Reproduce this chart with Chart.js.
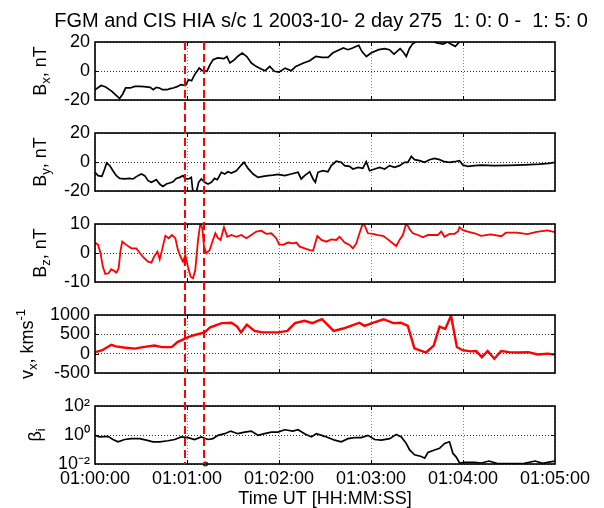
<!DOCTYPE html>
<html lang="en">
<head>
<meta charset="UTF-8">
<title>FGM and CIS HIA s/c 1</title>
<style>
    html, body { margin: 0; padding: 0; background: #fff; }
    #wrap { position: relative; width: 604px; height: 508px; overflow: hidden; background: #fff; }
    #wrap canvas { position: absolute; left: 0; }
</style>
</head>
<body>
<div id="wrap">
    <canvas id="p1" width="604" height="116" style="top:0px"></canvas>
    <canvas id="p2" width="604" height="91" style="top:116px"></canvas>
    <canvas id="p3" width="604" height="91" style="top:207px"></canvas>
    <canvas id="p4" width="604" height="91" style="top:298px"></canvas>
    <canvas id="p5" width="604" height="119" style="top:389px"></canvas>
</div>
<script src="https://cdn.jsdelivr.net/npm/chart.js"></script>
<script>
const TITLE = 'FGM and CIS HIA s/c 1 2003-10- 2 day 275  1: 0: 0 -  1: 5: 0';
const X_TITLE = 'Time UT [HH:MM:SS]';
// time axis in seconds after 01:00:00
const X_TICKS = [0, 60, 120, 180, 240, 300];
const X_TICK_LABELS = ['01:00:00', '01:01:00', '01:02:00', '01:03:00', '01:04:00', '01:05:00'];
const MARK_T = [58.8, 71.3];   // red dashed event lines
const DOT_T = [72];            // little yellow marker on the beta panel
const DOT_V = [0.01];

const BX_T = [0,4,7,11,14,16,18,20,23,26,29,32,36,38,40,42,44,47,49,51,54,56,59,61,63,65,68,70,73,75,
    77,80,84,86,88,91,93,96,99,102,105,108,111,114,117,120,124,128,131,136,140,144,148,152,155,158,162,165,168,172,
    174,177,180,185,189,192,195,199,201,203,205,207,210,216,223,227,230,232,235,237,239];
const BX = [-13,-10,-11,-14,-17,-19,-16,-11.7,-11.7,-10.6,-10.6,-10.8,-11.3,-12.9,-11.3,-11.7,-12.9,-12.9,-12.2,-11.7,
    -10.6,-9.4,-10.1,-6,-6.7,-2.5,2,0.2,-0.2,4.4,7.8,9,8.5,10,5.5,7.8,10,12.4,10,5.5,
    3.2,1.6,0.2,3.2,-0.2,-0.8,2,0.2,3.2,5.5,7.1,10,9.4,9.4,12.4,14,15.9,14.7,15.9,17.7,
    13.6,10,12.4,14.7,15.4,14.7,11.7,15.4,13.1,10,15.4,18.6,20.5,22,19.3,18.6,20,18.6,17,19.3,22];
const BX_TICKS = [-20, 0, 20];

const BY_T = [0,2,4.5,6.3,7.6,9.6,11.7,13.9,16.1,19.3,22.6,24.8,28,30.2,32.4,34.6,36.8,40,42.2,44.3,
    46.5,48.7,50.9,53,55.2,57.4,58.9,61,62.8,63.9,66,67.6,69.3,71.5,73.7,75.9,78,79.8,82.4,84.6,
    86.7,88.9,92.2,95.4,97.2,99.8,103.1,106.3,109.6,112.8,116.1,119.3,123.7,128,132.4,134.5,136.7,140,142.2,143.7,
    145.4,148.7,151.9,154.1,157.3,160.6,162.8,166,168.2,171.5,174.7,176.9,179.1,182.4,185.6,188.9,192.1,195.4,198.6,201.9,
    204.1,206.3,208.4,211.7,214.9,218.2,221.4,224.7,227.9,231.2,234.5,237.7,239.9,243.1,247.5,251.8,260,270,280,290,296,300];
const BY = [-7.1,-9.4,-9.9,-4.8,-0.7,-2.5,-6,-9.4,-11.3,-11.7,-11.3,-11.7,-9.4,-8.3,-9.4,-12.9,-14,-12.2,-15.2,-16.8,
    -15.2,-14.5,-13.6,-11.3,-10.6,-9.4,-11.7,-11.7,-10.6,-21,-21,-14,-11.7,-14,-15.2,-14,-11.3,-12.2,-7.1,-8.3,
    -6.7,-7.6,-6,-2.1,-0.2,-4.4,-8.3,-10.6,-9.9,-9.4,-9,-8.5,-9.4,-8.3,-7.1,-11.7,-9.4,-6.7,-11.7,-14,
    -7.1,-6,-6.7,-2.5,0.5,-0.2,-2.5,-3,-4.8,-3.7,-4.4,0.2,-6,-4.8,-3.7,-4.8,-2.5,-3.7,-2.5,-0.2,
    -0.2,3.9,1.6,0.9,-0.2,1.6,2.5,1.6,0.2,-0.2,0.2,0.9,-2.1,-3,-2.5,-2.1,-2.5,-2.3,-2,-1.5,-1,-0.3];
const BY_TICKS = [-20, 0, 20];

const BZ_T = [0,2,3.6,5.1,6.7,8.8,10.6,12.3,13.9,15.4,16.7,17.8,20.4,23.7,26.9,29.1,31.3,34.6,36.8,38.5,
    40.7,42.2,43.7,45.9,48,50.2,52.4,54.1,55.8,57.4,58.9,60.6,62.4,63.9,65.4,67.2,68.7,70,71.1,72.6,
    74.8,76.9,78.5,80.2,81.9,84.1,86.3,88.9,92.2,95.4,98.7,101.9,105.2,108.4,111.7,115,118.2,120,122.6,125.9,
    129.1,131.3,133.5,136.7,140,142.2,145,147.6,150.8,154.1,157.3,159.5,162.8,166,168.2,170.4,172.5,174.7,176.2,178,
    181.2,184.5,187.8,191,194.3,196.5,198.6,200.8,203,205.2,207.3,210.6,213.8,217.1,220.4,223.6,225.8,227.9,231.2,234.5,
    236.7,237.7,239.9,243.1,247.5,251.8,258,265,268,275,282,288,295,300];
const BZ = [3.6,2.8,-0.1,-4.7,-7.2,-7,-5.6,-6.1,-6.8,-5.3,1,3.9,2.8,1.6,1.6,0.1,-1.3,-3,-3.3,-1.3,
    0.5,-2.2,1,5.9,5.1,6.2,5.1,1,-1.3,-3,-0.7,-4.7,-8.2,-8.7,-5.9,4.5,10.3,8.5,2.2,-0.1,
    1,4.5,6.8,5.1,4.5,8.9,5.6,6.2,5.6,6.2,5.1,6.2,7.4,7.7,6.6,6.8,5.1,3,2.8,3.6,
    3.3,3.6,2.2,1.6,1,0.8,5.9,4.5,3.9,4.7,4.5,5.6,3.6,2.8,1.6,3.3,6.8,10.3,9.1,6.8,
    6.6,6.2,5.9,4.7,3.3,2.4,4.5,6.2,10.3,8.2,6.8,6.2,5.4,6.2,6.2,6.2,7.4,5.6,6.6,6.6,
    7.4,8.9,7.9,7.4,6.8,5.9,6.4,5.8,7,7,6.5,7.3,7.8,7.2];
const BZ_TICKS = [-10, 0, 10];

const VX_T = [0,4.8,10.6,13.6,18.6,26.1,31.2,38.7,43.7,50,53.8,59.3,63.8,71.4,75.1,82.7,89,92.7,95.2,99,
    104,109.1,114.1,119.6,125.4,130.4,136.7,141.7,148,155.6,161.8,166.9,172.4,175.7,180.7,188.2,194.5,199.5,204,208.3,
    215.9,220.9,224.7,228.4,232.2,236,239.7,244.8,248.5,252.3,256.1,260.4,264.9,269.9,276.2,282.5,288.7,295,300];
const VX = [40,90,230,190,160,130,170,210,170,170,300,400,470,550,680,790,800,700,550,750,
    590,550,550,550,590,790,850,790,890,590,650,720,800,720,790,890,790,800,720,140,
    30,210,700,640,980,170,90,60,70,-90,70,-130,70,40,30,40,-20,0,-20];
const VX_TICKS = [-500, 0, 500, 1000];

const BETA_T = [0,3,8.5,11.7,15,19.3,23.7,29.1,33.5,37.8,42.2,47.6,52,56.3,60.6,65,69.3,73.7,76.9,80.2,
    84.6,88.5,93.2,97.6,101.9,106.3,110.6,115,119.3,123.7,129.1,132.4,136.7,141.1,144.3,149.8,156.3,160.6,165,169.4,
    173.7,178,182.4,186.7,192.2,196.5,199.8,203,205.2,208.4,212.8,215,217.1,221.4,224.7,228,231.2,233.4,235.6,237.8,
    241,247.5,251.9,257,262,270,280,287,292,297,300];
const BETA = [0.95,0.74,0.81,0.49,0.34,0.49,0.56,0.56,0.44,0.34,0.34,0.40,0.49,0.74,0.66,0.49,0.74,0.49,0.56,0.95,
    1.23,1.86,1.23,1.58,1.86,0.95,1.23,1.58,1.58,2.29,1.86,2.29,1.23,0.74,1.23,0.81,0.44,0.34,0.56,0.66,
    0.66,0.95,0.49,0.44,0.56,1.10,0.74,0.26,0.093,0.043,0.033,0.025,0.062,0.093,0.12,0.26,0.34,0.055,0.030,0.0117,
    0.0129,0.0129,0.0117,0.016,0.011,0.0105,0.011,0.016,0.011,0.014,0.016];
const BETA_TICKS = [0.01, 1, 100];
const BETA_TICK_LABELS = ['10\u207B\u00B2', '10\u2070', '10\u00B2'];

const FONT = '"Liberation Sans", Arial, Helvetica, sans-serif';
const MARK_TOP = 42; // page y where the red lines start

// y label drawn by hand so the sub/superscripts work
function drawYLabel(chart, parts, cx) {
    const ctx = chart.ctx, a = chart.chartArea;
    ctx.save();
    ctx.translate(cx, (a.top + a.bottom) / 2);
    ctx.rotate(-Math.PI / 2);
    ctx.fillStyle = '#000';
    ctx.textBaseline = 'middle';
    let total = 0;
    const sized = parts.map(([text, kind]) => {
        const size = kind ? 13 : 18;
        ctx.font = size + 'px ' + FONT;
        const w = ctx.measureText(text).width;
        total += w;
        return { text, kind, size, w };
    });
    let x = -total / 2;
    for (const p of sized) {
        ctx.font = p.size + 'px ' + FONT;
        const dy = p.kind === 'sub' ? 5 : p.kind === 'sup' ? -7 : 0;
        ctx.fillText(p.text, x, dy);
        x += p.w;
    }
    ctx.restore();
}

const panelDecor = {
    id: 'panelDecor',
    afterDatasetsDraw(chart, args, o) {
        const ctx = chart.ctx, a = chart.chartArea;
        const xs = chart.scales.x, ys = chart.scales.y;
        ctx.save();
        ctx.strokeStyle = '#000';
        ctx.lineWidth = 1;
        ctx.beginPath();
        X_TICKS.slice(1, -1).forEach(t => {
            const x = Math.round(xs.getPixelForValue(t)) + 0.5;
            ctx.moveTo(x, a.top); ctx.lineTo(x, a.top + 4);
            ctx.moveTo(x, a.bottom); ctx.lineTo(x, a.bottom - 4);
        });
        o.yTicks.slice(1, -1).forEach(v => {
            const y = Math.round(ys.getPixelForValue(v)) + 0.5;
            ctx.moveTo(a.left, y); ctx.lineTo(a.left + 4, y);
            ctx.moveTo(a.right, y); ctx.lineTo(a.right - 4, y);
        });
        ctx.stroke();
        ctx.lineWidth = 1.6;
        ctx.strokeRect(a.left, a.top, a.right - a.left, a.bottom - a.top);
        ctx.restore();
    },
    afterDraw(chart, args, o) {
        const ctx = chart.ctx, a = chart.chartArea;
        const y0 = o.first ? a.top : 0;
        const y1 = o.last ? a.bottom : chart.height;
        ctx.save();
        ctx.strokeStyle = '#ff0000';
        ctx.lineWidth = 2;
        ctx.setLineDash([8, 4]);
        ctx.lineDashOffset = o.canvasTop + y0 - MARK_TOP;
        MARK_T.forEach(t => {
            const x = Math.round(chart.scales.x.getPixelForValue(t));
            ctx.beginPath();
            ctx.moveTo(x, y0);
            ctx.lineTo(x, y1);
            ctx.stroke();
        });
        ctx.restore();
        drawYLabel(chart, o.label, o.labelX);
        if (o.first) {
            ctx.save();
            ctx.fillStyle = '#000';
            ctx.font = '20px ' + FONT;
            ctx.textAlign = 'center';
            ctx.textBaseline = 'middle';
            ctx.fillText(TITLE, 321, 21);
            ctx.restore();
        }
    }
};

const panels = [
    { id: 'p1', t: BX_T, v: BX, ticks: BX_TICKS, color: '#000', width: 1.7,
      label: [['B'], ['x', 'sub'], [', nT']], labelX: 41, canvasTop: 0, padTop: 42, padBottom: 16 },
    { id: 'p2', t: BY_T, v: BY, ticks: BY_TICKS, color: '#000', width: 1.7,
      label: [['B'], ['y', 'sub'], [', nT']], labelX: 41, canvasTop: 116, padTop: 17, padBottom: 16 },
    { id: 'p3', t: BZ_T, v: BZ, ticks: BZ_TICKS, color: '#ff0000', width: 1.8,
      label: [['B'], ['z', 'sub'], [', nT']], labelX: 41, canvasTop: 207, padTop: 17, padBottom: 16 },
    { id: 'p4', t: VX_T, v: VX, ticks: VX_TICKS, color: '#ff0000', width: 2.4,
      label: [['v'], ['x', 'sub'], [', kms'], ['-1', 'sup']], labelX: 28, canvasTop: 298, padTop: 17, padBottom: 16 },
    { id: 'p5', t: BETA_T, v: BETA, ticks: BETA_TICKS, color: '#000', width: 1.7, log: true,
      label: [['\u03B2'], ['i', 'sub']], labelX: 36, canvasTop: 389, padTop: 17, padBottom: 0 }
];

panels.forEach((p, i) => {
    const first = i === 0, last = i === panels.length - 1;
    const datasets = [{
        data: p.t.map((t, k) => ({ x: t, y: p.v[k] })),
        borderColor: p.color,
        borderWidth: p.width,
        pointRadius: 0,
        tension: 0,
        clip: 0
    }];
    if (last) {
        datasets.push({
            data: DOT_T.map((t, k) => ({ x: t, y: DOT_V[k] })),
            showLine: false,
            pointStyle: 'rect',
            pointRadius: 2.5,
            backgroundColor: '#ffff00',
            borderColor: '#000',
            borderWidth: 1,
            clip: false
        });
    }
    new Chart(document.getElementById(p.id), {
        type: 'line',
        data: { datasets },
        options: {
            responsive: false,
            animation: false,
            devicePixelRatio: 1,
            layout: { padding: { left: 0, right: 49, top: p.padTop, bottom: p.padBottom } },
            plugins: {
                legend: { display: false },
                tooltip: { enabled: false },
                panelDecor: { first, last, label: p.label, labelX: p.labelX, canvasTop: p.canvasTop, yTicks: p.ticks }
            },
            scales: {
                x: {
                    type: 'linear',
                    min: 0,
                    max: 300,
                    afterBuildTicks: s => { s.ticks = X_TICKS.map(value => ({ value })); },
                    afterFit: s => { s.height = last ? 44 : 0; },
                    ticks: {
                        display: last,
                        autoSkip: false,
                        maxRotation: 0,
                        padding: 4,
                        color: '#000',
                        font: { family: FONT, size: 18 },
                        callback: v => X_TICK_LABELS[X_TICKS.indexOf(v)]
                    },
                    grid: { color: '#888', lineWidth: 1, drawTicks: false },
                    border: { display: false, dash: [1, 2] },
                    title: {
                        display: last,
                        text: X_TITLE,
                        color: '#000',
                        padding: 0,
                        font: { family: FONT, size: 18, lineHeight: 1 }
                    }
                },
                y: {
                    type: p.log ? 'logarithmic' : 'linear',
                    min: p.ticks[0],
                    max: p.ticks[p.ticks.length - 1],
                    afterBuildTicks: s => { s.ticks = p.ticks.map(value => ({ value })); },
                    afterFit: s => { s.width = 95; },
                    ticks: {
                        autoSkip: false,
                        padding: 5,
                        color: '#000',
                        font: { family: FONT, size: 18, lineHeight: 1 },
                        callback: v => p.log ? BETA_TICK_LABELS[BETA_TICKS.indexOf(v)] : String(v)
                    },
                    grid: { color: '#333', lineWidth: 1, drawTicks: false },
                    border: { display: false, dash: [1, 2] }
                }
            }
        },
        plugins: [panelDecor]
    });
});
</script>
</body>
</html>
